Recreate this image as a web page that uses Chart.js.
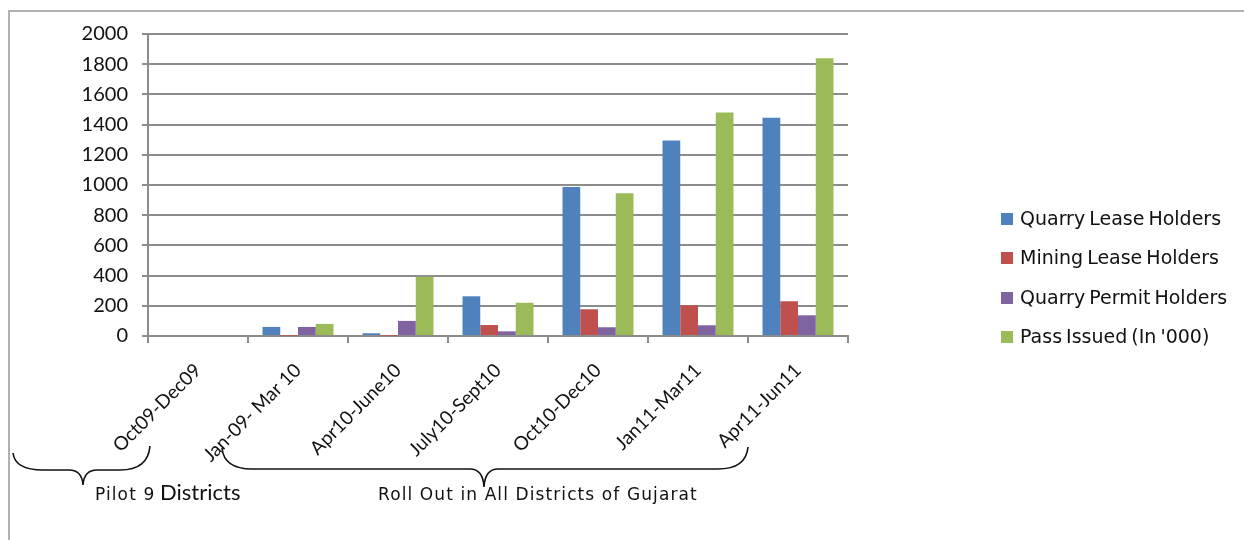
<!DOCTYPE html>
<html>
<head>
<meta charset="utf-8">
<script src="https://cdn.jsdelivr.net/npm/chart.js@4.4.0/dist/chart.umd.min.js"></script>
<style>
    html, body { margin: 0; padding: 0; background: #fff; }
    #wrap { position: relative; width: 1244px; height: 540px; overflow: hidden; }
    #frame { position: absolute; left: 8px; top: 10px; width: 1250px; height: 600px;
             border-top: 2px solid #b0b0b0; border-left: 2px solid #b0b0b0; }
    #legend { position: absolute; left: 1001px; top: 207px; font-family: "DejaVu Sans", sans-serif;
              font-size: 19px; line-height: 23px; color: #111; word-spacing: -2px; }
    #legend div { height: 39.4px; display: flex; align-items: flex-start; white-space: nowrap; }
    #legend span.box { display: inline-block; width: 12px; height: 12px; margin: 6px 7px 0 0; }
</style>
</head>
<body>
<div id="wrap">
    <div id="frame"></div>
    <canvas id="chart" width="1244" height="540"></canvas>
    <div id="legend"></div>
</div>
<script>
const periods = ['Oct09-Dec09', 'Jan-09- Mar 10', 'Apr10-June10', 'July10-Sept10', 'Oct10-Dec10', 'Jan11-Mar11', 'Apr11-Jun11'];
const quarryLease = [0, 60, 18, 263, 987, 1295, 1445];
const miningLease = [0, 2, 2, 73, 177, 203, 230];
const quarryPermit = [0, 60, 100, 31, 58, 71, 137];
const passIssued = [0, 80, 392, 220, 945, 1480, 1840];
const seriesNames = ['Quarry Lease Holders', 'Mining Lease Holders', 'Quarry Permit Holders', "Pass Issued (In '000)"];
const seriesColors = ['#4F81BD', '#C0504D', '#8064A2', '#9BBB59'];
const yTicks = [0, 200, 400, 600, 800, 1000, 1200, 1400, 1600, 1800, 2000];

const seriesData = [quarryLease, miningLease, quarryPermit, passIssued];

// braces and group captions under the axis
const bracePlugin = {
    id: 'braces',
    afterDraw(chart) {
        const ctx = chart.ctx;
        const x = chart.scales.x;
        const step = x.getPixelForValue(1) - x.getPixelForValue(0);

        function brace(x1, y1, x2, y2, mid, yLine, yTip) {
            ctx.beginPath();
            ctx.moveTo(x1, y1);
            ctx.quadraticCurveTo(x1 + 2, yLine, x1 + 30, yLine);
            ctx.lineTo(mid - 14, yLine);
            ctx.quadraticCurveTo(mid - 1, yLine, mid, yTip);
            ctx.quadraticCurveTo(mid + 1, yLine, mid + 14, yLine);
            ctx.lineTo(x2 - 30, yLine);
            ctx.quadraticCurveTo(x2 - 2, yLine, x2, y2);
            ctx.stroke();
        }

        ctx.save();
        ctx.strokeStyle = '#111';
        ctx.lineWidth = 1.6;
        brace(13, 453, x.left + 2, 446, 83, 470, 485);
        const b2l = x.getPixelForValue(1) - step * 0.76;
        const b2r = x.getPixelForValue(6) - step * 0.5;
        brace(b2l, 448, b2r, 447, (b2l + b2r) / 2 - 1, 469, 487);

        ctx.fillStyle = '#111';
        ctx.textBaseline = 'alphabetic';
        ctx.letterSpacing = '1.1px';
        ctx.font = '17px "DejaVu Sans"';
        ctx.fillText('Pilot 9', 95, 500);
        ctx.fillText('Roll Out in All Districts of Gujarat', 378, 500);
        ctx.letterSpacing = '0px';
        ctx.font = '22px Lato';
        ctx.fillText('Districts', 160, 500);
        ctx.restore();
    }
};

const chart = new Chart(document.getElementById('chart'), {
    type: 'bar',
    data: {
        labels: periods,
        datasets: seriesData.map((d, i) => ({
            label: seriesNames[i],
            data: d,
            backgroundColor: seriesColors[i],
            borderWidth: 0,
            categoryPercentage: 0.71,
            barPercentage: 1.0
        }))
    },
    options: {
        responsive: false,
        animation: false,
        layout: { padding: { left: 0, top: 34, right: 396, bottom: 0 } },
        plugins: {
            legend: { display: false },
            tooltip: { enabled: false }
        },
        scales: {
            x: {
                offset: true,
                afterFit(s) { s.height = 204; },
                grid: {
                    offset: true,
                    drawOnChartArea: false,
                    drawTicks: true,
                    tickLength: 7,
                    color: '#8c8c8c',
                    lineWidth: 2
                },
                border: { color: '#8c8c8c', width: 2 },
                ticks: {
                    autoSkip: false,
                    maxRotation: 45,
                    minRotation: 45,
                    padding: 16,
                    color: '#111',
                    font: { family: 'Lato', size: 19 }
                }
            },
            y: {
                min: 0,
                max: 2000,
                afterFit(s) { s.width = 148; },
                afterBuildTicks(s) { s.ticks = yTicks.map(v => ({ value: v })); },
                grid: {
                    color: '#8c8c8c',
                    lineWidth: 2,
                    tickLength: 6
                },
                border: { color: '#8c8c8c', width: 2 },
                ticks: {
                    padding: 14,
                    color: '#111',
                    font: { family: 'Lato', size: 20 },
                    callback: v => String(v)
                }
            }
        }
    },
    plugins: [bracePlugin]
});

const legend = document.getElementById('legend');
seriesNames.forEach((name, i) => {
    const row = document.createElement('div');
    row.innerHTML = '<span class="box" style="background:' + seriesColors[i] + '"></span><span>' + name + '</span>';
    legend.appendChild(row);
});
</script>
</body>
</html>
